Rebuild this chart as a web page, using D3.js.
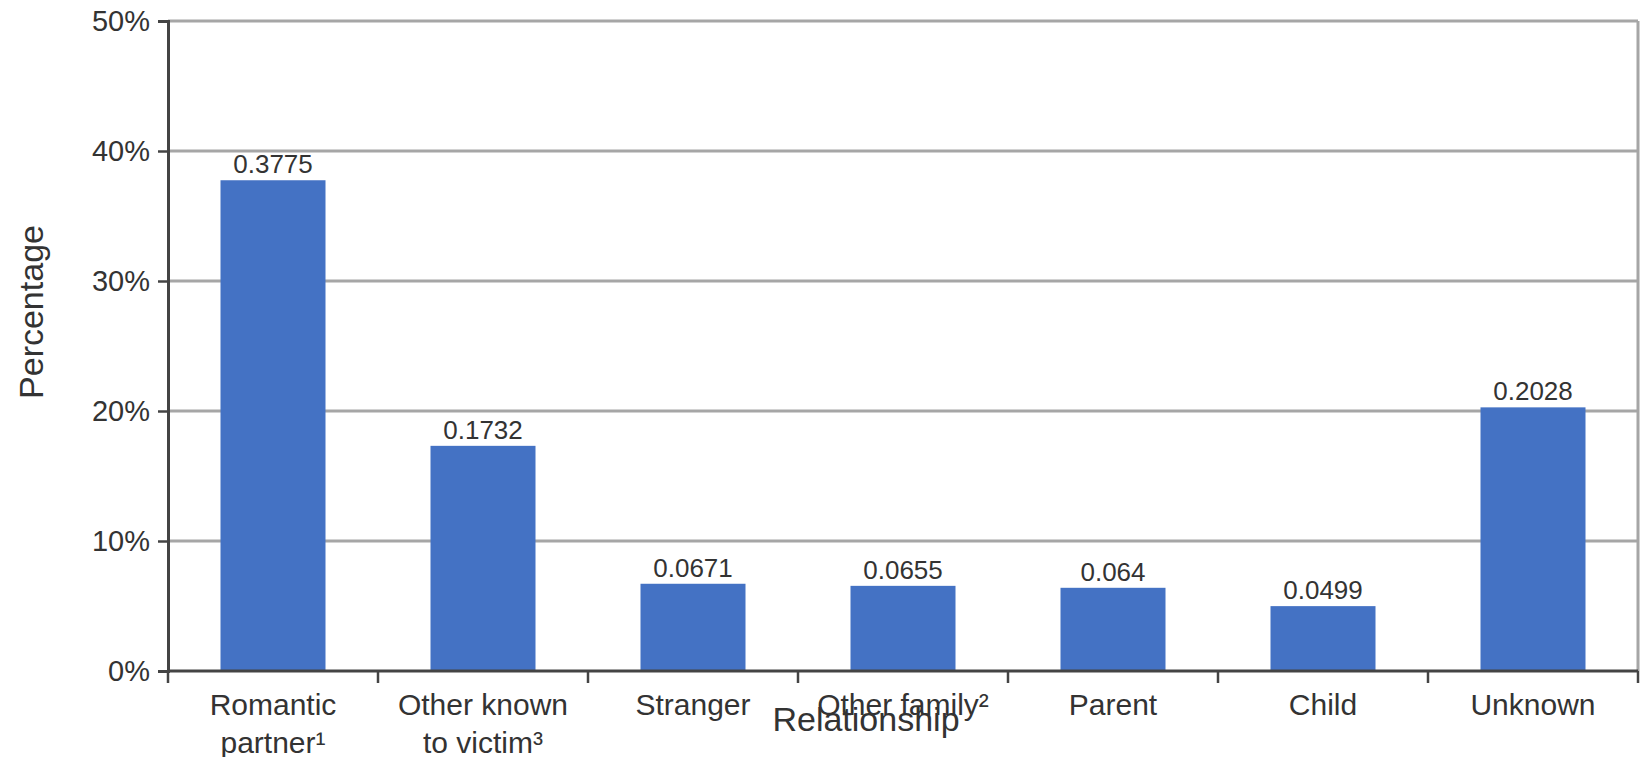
<!DOCTYPE html>
<html>
<head>
<meta charset="utf-8">
<script src="https://cdn.jsdelivr.net/npm/d3@7"></script>
<style>
  html, body { margin: 0; padding: 0; background: #fff; }
  svg { display: block; }
  text { font-family: "Liberation Sans", Arial, sans-serif; fill: #333; }
</style>
</head>
<body>
<svg id="chart" width="1640" height="757"></svg>
<script>
const categories = [
  ["Romantic", "partner¹"],
  ["Other known", "to victim³"],
  ["Stranger"],
  ["Other family²"],
  ["Parent"],
  ["Child"],
  ["Unknown"]
];
const values = [0.3775, 0.1732, 0.0671, 0.0655, 0.064, 0.0499, 0.2028];
const valueLabels = ["0.3775", "0.1732", "0.0671", "0.0655", "0.064", "0.0499", "0.2028"];
const yTicks = [0, 0.1, 0.2, 0.3, 0.4, 0.5];
const yTickLabels = ["0%", "10%", "20%", "30%", "40%", "50%"];
const xTitle = "Relationship";
const yTitle = "Percentage";

const W = 1640, H = 757;
const m = { left: 168, right: 2, top: 21, bottom: 86 };
const svg = d3.select("#chart");

const keys = categories.map((c, i) => i);
const x = d3.scaleBand().domain(keys).range([m.left, W - m.right]).paddingInner(0.5).paddingOuter(0.25);
const y = d3.scaleLinear().domain([0, 0.5]).range([H - m.bottom, m.top]);

// gridlines
svg.append("g").selectAll("line").data(yTicks.slice(1)).join("line")
  .attr("x1", m.left).attr("x2", W - m.right)
  .attr("y1", d => y(d)).attr("y2", d => y(d))
  .attr("stroke", "#a6a6a6").attr("stroke-width", 3);

// right border
svg.append("line")
  .attr("x1", W - m.right).attr("x2", W - m.right)
  .attr("y1", y(0.5)).attr("y2", y(0))
  .attr("stroke", "#a6a6a6").attr("stroke-width", 3);

// bars
svg.append("g").selectAll("rect").data(values).join("rect")
  .attr("x", (d, i) => x(i))
  .attr("width", x.bandwidth())
  .attr("y", d => y(d))
  .attr("height", d => y(0) - y(d))
  .attr("fill", "#4472c4");

// value labels
svg.append("g").selectAll("text").data(values).join("text")
  .attr("x", (d, i) => x(i) + x.bandwidth() / 2)
  .attr("y", d => y(d) - 7)
  .attr("text-anchor", "middle")
  .attr("font-size", 26)
  .text((d, i) => valueLabels[i]);

// y axis
const yAxis = d3.axisLeft(y).tickValues(yTicks).tickFormat((d, i) => yTickLabels[i]).tickSize(10).tickPadding(8);
const gy = svg.append("g").attr("transform", `translate(${m.left},0)`).call(yAxis);
gy.select(".domain").attr("stroke", "#444").attr("stroke-width", 3);
gy.selectAll(".tick line").attr("stroke", "#444").attr("stroke-width", 2.5);
gy.selectAll(".tick text").attr("font-size", 29).attr("font-family", "Liberation Sans, Arial, sans-serif").attr("fill", "#333");

// x axis baseline and ticks at category boundaries
const step = x.step();
const boundaries = d3.range(categories.length + 1).map(i => m.left + i * step);
svg.append("line")
  .attr("x1", m.left).attr("x2", W - m.right)
  .attr("y1", y(0)).attr("y2", y(0))
  .attr("stroke", "#444").attr("stroke-width", 3);
svg.append("g").selectAll("line").data(boundaries).join("line")
  .attr("x1", d => d).attr("x2", d => d)
  .attr("y1", y(0)).attr("y2", y(0) + 12)
  .attr("stroke", "#444").attr("stroke-width", 2.5);

// category labels
const cl = svg.append("g").selectAll("text").data(categories).join("text")
  .attr("x", (d, i) => x(i) + x.bandwidth() / 2)
  .attr("y", 715)
  .attr("text-anchor", "middle")
  .attr("font-size", 30);
cl.selectAll("tspan").data(d => d).join("tspan")
  .attr("x", function () { return d3.select(this.parentNode).attr("x"); })
  .attr("dy", (d, i) => i === 0 ? 0 : 38)
  .text(d => d);

// axis titles
svg.append("text")
  .attr("x", 866)
  .attr("y", 731)
  .attr("text-anchor", "middle")
  .attr("font-size", 34)
  .text(xTitle);

svg.append("text")
  .attr("transform", `translate(43,312) rotate(-90)`)
  .attr("text-anchor", "middle")
  .attr("font-size", 34)
  .text(yTitle);
</script>
</body>
</html>
